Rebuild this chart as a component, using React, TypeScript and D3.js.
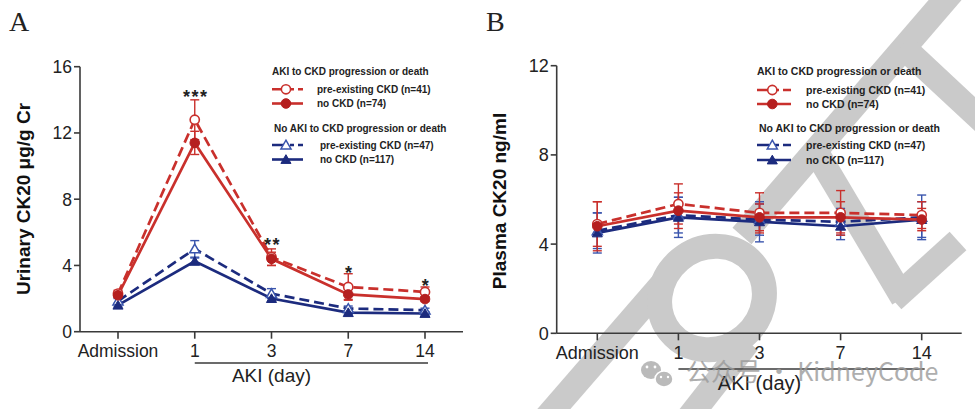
import React from "react";
import * as d3 from "d3";

// ---------- data ----------
const categories = ["Admission", "1", "3", "7", "14"];
const yTicksA = [0, 4, 8, 12, 16];
const yTicksB = [0, 4, 8, 12];

// Panel A: urinary CK20 (µg/g Cr)
const aRedPre = [2.3, 12.8, 4.5, 2.7, 2.4];
const aRedPreErr = [0.2, 1.2, 0.5, 0.8, 0.3];
const aRedNo = [2.2, 11.4, 4.4, 2.25, 1.97];
const aRedNoErr = [0.15, 0.7, 0.4, 0.3, 0.15];
const aBluePre = [1.85, 5.0, 2.3, 1.4, 1.3];
const aBluePreErr = [0.15, 0.5, 0.3, 0.15, 0.12];
const aBlueNo = [1.6, 4.25, 2.0, 1.15, 1.1];
const aBlueNoErr = [0.1, 0.2, 0.15, 0.1, 0.1];
const aStars = ["", "***", "**", "*", "*"];
const aStarValues = [0, 13.8, 4.9, 3.2, 2.4];

// Panel B: plasma CK20 (ng/ml)
const bRedPre = [4.9, 5.8, 5.4, 5.4, 5.3];
const bRedPreErr = [1.0, 0.9, 0.9, 1.0, 0.6];
const bRedNo = [4.8, 5.5, 5.2, 5.2, 5.1];
const bRedNoErr = [1.1, 0.8, 0.6, 0.7, 0.5];
const bBluePre = [4.6, 5.3, 5.1, 5.0, 5.2];
const bBluePreErr = [0.8, 0.8, 0.7, 0.6, 1.0];
const bBlueNo = [4.5, 5.2, 5.0, 4.8, 5.1];
const bBlueNoErr = [0.9, 0.9, 0.9, 0.6, 0.8];

const legendHeader1 = "AKI  to CKD progression or death";
const legendHeader2 = "No AKI to CKD progression or death";
const legendLabelsA = ["pre-existing CKD  (n=41)", "no CKD (n=74)", "pre-existing CKD (n=47)", "no CKD (n=117)"];
const legendLabelsB = ["pre-existing CKD  (n=41)", " no CKD (n=74)", "pre-existing CKD (n=47)", "no CKD (n=117)"];

// ---------- styles ----------
const RED = "#c9302c";
const RED_DARK = "#b51f1f";
const BLUE = "#1c2b7e";
const BLUE_OPEN = "#3a55ad";
const AXIS = "#3a3a3a";
const FONT = "'Liberation Sans', Arial, sans-serif";

type Series = { values: number[]; err: number[]; color: string; mark: string; dashed: boolean };

const seriesA: Series[] = [
  { values: aBluePre, err: aBluePreErr, color: BLUE, mark: "triOpen", dashed: true },
  { values: aBlueNo, err: aBlueNoErr, color: BLUE, mark: "triFill", dashed: false },
  { values: aRedPre, err: aRedPreErr, color: RED, mark: "circOpen", dashed: true },
  { values: aRedNo, err: aRedNoErr, color: RED, mark: "circFill", dashed: false },
];
const seriesB: Series[] = [
  { values: bBluePre, err: bBluePreErr, color: BLUE, mark: "triOpen", dashed: true },
  { values: bBlueNo, err: bBlueNoErr, color: BLUE, mark: "triFill", dashed: false },
  { values: bRedPre, err: bRedPreErr, color: RED, mark: "circOpen", dashed: true },
  { values: bRedNo, err: bRedNoErr, color: RED, mark: "circFill", dashed: false },
];

function Marker({ kind, x, y, color }: { kind: string; x: number; y: number; color: string }) {
  if (kind === "circOpen") return <circle cx={x} cy={y} r={4.6} fill="#fff" stroke={color} strokeWidth={1.6} />;
  if (kind === "circFill") return <circle cx={x} cy={y} r={4.8} fill={RED_DARK} stroke={RED_DARK} strokeWidth={1} />;
  const tri = d3.symbol(d3.symbolTriangle, 44)();
  if (kind === "triOpen")
    return <path d={tri || ""} transform={`translate(${x},${y + 1})`} fill="#fff" stroke={BLUE_OPEN} strokeWidth={1.5} />;
  return <path d={tri || ""} transform={`translate(${x},${y + 1})`} fill={BLUE} stroke={BLUE} strokeWidth={1} />;
}

type PanelProps = {
  series: Series[];
  yMax: number;
  yTicks: number[];
  axisX: number;
  yTop: number;
  yBottom: number;
  xFirst: number;
  xLast: number;
  axisEnd: number;
  tickFont: number;
  title: string;
  titleX: number;
  titleY: number;
  dayFont: number;
  dayY: number;
  underlineY: number;
  tickLabelY: number;
  letter: string;
  letterX: number;
  legend: { x: number; lineW: number; textX: number[]; rowsY: number[]; headY: number[]; font: number; labels: string[] };
  stars?: boolean;
};

function Panel(p: PanelProps) {
  const x = d3.scalePoint<string>().domain(categories).range([p.xFirst, p.xLast]);
  const y = d3.scaleLinear().domain([0, p.yMax]).range([p.yBottom, p.yTop]);
  const line = d3
    .line<number>()
    .x((_, i) => x(categories[i]) as number)
    .y((v) => y(v));
  const cap = 4.5;
  const lg = p.legend;
  const legendItems = [
    { color: RED, mark: "circOpen", dashed: true },
    { color: RED, mark: "circFill", dashed: false },
    { color: BLUE, mark: "triOpen", dashed: true },
    { color: BLUE, mark: "triFill", dashed: false },
  ];
  return (
    <g>
      <text x={p.letterX} y={31} fontFamily="'Liberation Serif', 'DejaVu Serif', serif" fontSize={28} fill="#222">
        {p.letter}
      </text>
      {/* axes */}
      <line x1={p.axisX} x2={p.axisX} y1={p.yTop} y2={p.yBottom} stroke={AXIS} strokeWidth={1.6} />
      <line x1={p.axisX} x2={p.axisEnd} y1={p.yBottom} y2={p.yBottom} stroke={AXIS} strokeWidth={1.6} />
      {p.yTicks.map((t) => (
        <g key={t}>
          <line x1={p.axisX - 6} x2={p.axisX} y1={y(t)} y2={y(t)} stroke={AXIS} strokeWidth={1.6} />
          <text x={p.axisX - 8} y={y(t)} dy="0.36em" textAnchor="end" fontFamily={FONT} fontSize={p.tickFont} fill="#222">
            {t}
          </text>
        </g>
      ))}
      {categories.map((c) => (
        <g key={c}>
          <line x1={x(c)} x2={x(c)} y1={p.yBottom} y2={p.yBottom + 7} stroke={AXIS} strokeWidth={1.6} />
          <text x={x(c)} y={p.tickLabelY} textAnchor="middle" fontFamily={FONT} fontSize={p.tickFont} fill="#222">
            {c}
          </text>
        </g>
      ))}
      <line x1={x("1")} x2={(x("14") as number) + 3} y1={p.underlineY} y2={p.underlineY} stroke={AXIS} strokeWidth={1.6} />
      <text x={x("3")} y={p.dayY} textAnchor="middle" fontFamily={FONT} fontSize={p.dayFont} fill="#222">
        AKI (day)
      </text>
      <text
        transform={`translate(${p.titleX},${p.titleY}) rotate(-90)`}
        textAnchor="middle"
        fontFamily={FONT}
        fontWeight="bold"
        fontSize={19}
        fill="#111"
      >
        {p.title}
      </text>
      {/* error bars */}
      {p.series.map((s, si) =>
        s.values.map((v, i) => {
          const cx = x(categories[i]) as number;
          const col = s.color === RED ? RED : BLUE_OPEN;
          return (
            <g key={`e${si}-${i}`} stroke={col} strokeWidth={1.4}>
              <line x1={cx} x2={cx} y1={y(v + s.err[i])} y2={y(v - s.err[i])} />
              <line x1={cx - cap} x2={cx + cap} y1={y(v + s.err[i])} y2={y(v + s.err[i])} />
              <line x1={cx - cap} x2={cx + cap} y1={y(v - s.err[i])} y2={y(v - s.err[i])} />
            </g>
          );
        })
      )}
      {/* lines */}
      {p.series.map((s, si) => (
        <path
          key={`l${si}`}
          d={line(s.values) || ""}
          fill="none"
          stroke={s.color}
          strokeWidth={2.7}
          strokeDasharray={s.dashed ? "10,5" : undefined}
        />
      ))}
      {p.series.map((s, si) =>
        s.values.map((v, i) => (
          <Marker key={`m${si}-${i}`} kind={s.mark} x={x(categories[i]) as number} y={y(v)} color={s.color} />
        ))
      )}
      {p.stars &&
        aStars.map((st, i) =>
          st ? (
            <text
              key={`s${i}`}
              x={(x(categories[i]) as number) + 1}
              y={y(aStarValues[i])}
              textAnchor="middle"
              fontFamily={FONT}
              fontWeight="bold"
              fontSize={18}
              letterSpacing={1.5}
              fill="#222"
            >
              {st}
            </text>
          ) : null
        )}
      {/* legend */}
      <g fontFamily={FONT} fontWeight="bold" fontSize={lg.font} fill="#222">
        <text x={lg.x} y={lg.headY[0]}>{legendHeader1}</text>
        <text x={lg.x + 2} y={lg.headY[1]}>{legendHeader2}</text>
        {legendItems.map((it, i) => (
          <g key={`lg${i}`}>
            <line
              x1={lg.x}
              x2={lg.x + lg.lineW}
              y1={lg.rowsY[i]}
              y2={lg.rowsY[i]}
              stroke={it.color}
              strokeWidth={2.6}
              strokeDasharray={it.dashed ? "12,6,4,4" : undefined}
            />
            <Marker kind={it.mark} x={lg.x + lg.lineW * 0.45} y={lg.rowsY[i]} color={it.color} />
            <text x={lg.textX[i]} y={lg.rowsY[i]} dy="0.35em">
              {lg.labels[i]}
            </text>
          </g>
        ))}
      </g>
    </g>
  );
}

function Watermark() {
  const c = "#cacaca";
  return (
    <g fill="none" stroke={c} strokeWidth={25} strokeLinejoin="round">
      {/* lower-left stem */}
      <path d="M540,425 L664,282" />
      {/* ring */}
      <ellipse cx={712} cy={298} rx={54} ry={50} transform="rotate(-40,712,298)" />
      {/* band from ring downwards */}
      <path d="M748,342 L683,425" />
      {/* long band up to top-right */}
      <path d="M742,236 L958,-15" />
      {/* chevron arm */}
      <path d="M902,46 L990,128" />
      {/* down-right band with hook */}
      <path d="M815,150 L903,298" strokeLinejoin="miter" />
      <path d="M893,300 L958,241" />
    </g>
  );
}

function WeChatMark() {
  return (
    <g opacity={0.8}>
      <ellipse cx={651} cy={370} rx={10} ry={9} fill="#a9a9a9" />
      <ellipse cx={664} cy={379} rx={9} ry={8} fill="#a9a9a9" stroke="#fff" strokeWidth={1.5} />
      <circle cx={647} cy={367} r={1.4} fill="#fff" />
      <circle cx={655} cy={367} r={1.4} fill="#fff" />
      <circle cx={661} cy={377} r={1.2} fill="#fff" />
      <circle cx={668} cy={377} r={1.2} fill="#fff" />
      <text x={686} y={381} fontFamily="'Noto Sans CJK SC', 'DejaVu Sans', sans-serif" fontSize={25} fill="#9a9a9a">
        公众号 · KidneyCode
      </text>
    </g>
  );
}

export default function App() {
  return (
    <svg
      width={975}
      height={409}
      viewBox="0 0 975 409"
      style={{ position: "absolute", left: 0, top: 0, background: "#fff" }}
    >
      <rect x={0} y={0} width={975} height={409} fill="#fff" />
      <Watermark />
      <Panel
        series={seriesA}
        yMax={16}
        yTicks={yTicksA}
        axisX={80}
        yTop={66.7}
        yBottom={331.7}
        xFirst={118}
        xLast={425}
        axisEnd={463}
        tickFont={17.5}
        title="Urinary CK20 μg/g Cr"
        titleX={30}
        titleY={199}
        dayFont={19}
        dayY={382}
        underlineY={363}
        tickLabelY={357}
        letter="A"
        letterX={9}
        legend={{
          x: 272,
          lineW: 31,
          textX: [317, 317, 320, 320],
          rowsY: [89.3, 103.5, 145, 159.5],
          headY: [74.5, 132],
          font: 10,
          labels: legendLabelsA,
        }}
        stars
      />
      <Panel
        series={seriesB}
        yMax={12}
        yTicks={yTicksB}
        axisX={556.7}
        yTop={65.7}
        yBottom={333.3}
        xFirst={597.3}
        xLast={921.7}
        axisEnd={961.7}
        tickFont={18}
        title="Plasma CK20 ng/ml"
        titleX={506}
        titleY={201}
        dayFont={20}
        dayY={390}
        underlineY={369}
        tickLabelY={359}
        letter="B"
        letterX={486}
        legend={{
          x: 757,
          lineW: 34,
          textX: [806, 806, 806, 806],
          rowsY: [90, 104, 145, 160],
          headY: [75, 132],
          font: 10.5,
          labels: legendLabelsB,
        }}
      />
      <WeChatMark />
    </svg>
  );
}
